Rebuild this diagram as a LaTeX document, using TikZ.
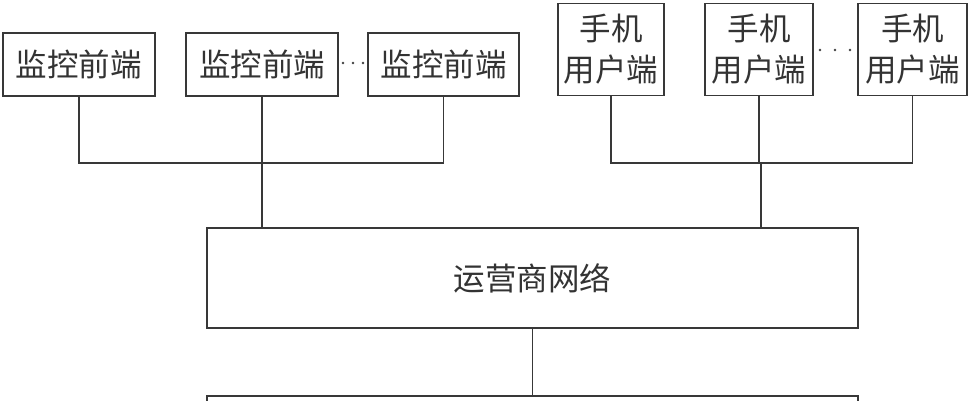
\documentclass[tikz,border=0pt]{standalone}
\usepackage{fontspec}
\newfontfamily\cjk{Noto Sans CJK SC}
\begin{document}
\begin{tikzpicture}[x=1pt,y=-1pt,
  ln/.style={line width=1.3pt,draw=black!78},
  box/.style={ln,rectangle,inner sep=0pt,fill=white,
    font=\cjk\fontsize{31.5}{41}\selectfont,text=black!80,align=center},
  dotc/.style={circle,fill=black!75,inner sep=0pt,minimum size=2.6pt}]
\useasboundingbox (0,0) rectangle (977,400);
% monitoring front ends
\node[box,minimum width=152,minimum height=63] (m1) at (79,64.5) {监控前端};
\node[box,minimum width=152,minimum height=63] (m2) at (262,64.5) {监控前端};
\node[box,minimum width=151,minimum height=63] (m3) at (443.5,64.5) {监控前端};
% phone user ends
\node[box,minimum width=106,minimum height=92] (p1) at (611,49.5) {手机\\用户端};
\node[box,minimum width=108,minimum height=92] (p2) at (759,49.5) {手机\\用户端};
\node[box,minimum width=109,minimum height=92] (p3) at (912.5,49.5) {手机\\用户端};
% network
\node[box,minimum width=651,minimum height=100] (net) at (532.5,278) {运营商网络};
\node[box,minimum width=651,minimum height=100] (bot) at (532.5,446) {};
% ellipses
\node[dotc] (d1) at (343,63) {};
\node[dotc] (d2) at (353,63) {};
\node[dotc] (d3) at (363,63) {};
\node[dotc] (e1) at (820,50) {};
\node[dotc] (e2) at (835,50) {};
\node[dotc] (e3) at (850,50) {};
% connectors
\coordinate (lb) at (262,163);
\coordinate (rb) at (761,163);
\draw[ln] (m1.south) |- (lb);
\draw[ln] (m3.south) |- (lb);
\draw[ln] (m2.south) -- (m2.south |- net.north);
\draw[ln] (p1.south) |- (rb);
\draw[ln] (p3.south) |- (rb);
\draw[ln] (rb) -- (rb |- net.north);
\draw[ln] (p2.south) -- (p2.south |- rb);
\draw[ln] (net.south) -- (bot.north);
\end{tikzpicture}
\end{document}
